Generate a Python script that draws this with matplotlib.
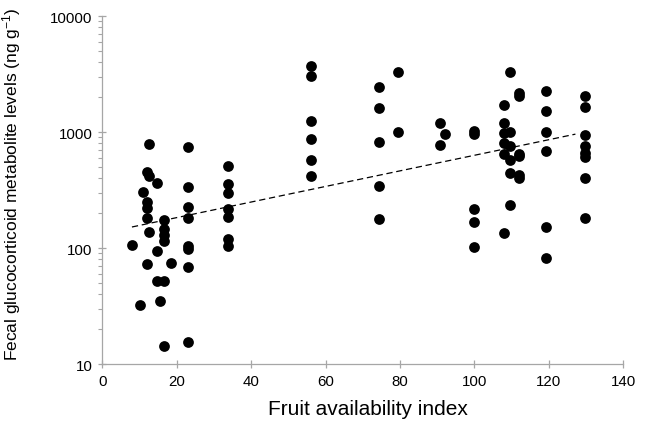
import numpy as np
import matplotlib.pyplot as plt

plt.rcParams['font.family'] = ['Liberation Sans', 'DejaVu Sans']
plt.rcParams['mathtext.fontset'] = 'custom'
plt.rcParams['mathtext.rm'] = 'Liberation Sans'
plt.rcParams['mathtext.it'] = 'Liberation Sans:italic'

# fruit availability index for each column of points, and the values in it
fruit_index = [7.95, 10.1, 10.9, 12.0, 12.6, 14.7, 15.5, 16.7, 18.4, 22.9,
               33.9, 56.1, 74.4, 79.5, 90.8, 92.2, 99.8, 108.0, 109.7, 112.1,
               119.4, 129.7]
fgm_levels = [
    [106],
    [32],
    [305],
    [455, 250, 222, 181, 73],
    [793, 418, 137],
    [366, 95, 52],
    [35],
    [175, 146, 130, 116, 52, 14.3],
    [74],
    [749, 338, 225, 181, 104, 98, 69, 15.5],
    [513, 356, 298, 217, 185, 120, 105],
    [3680, 3055, 1250, 870, 577, 420],
    [2430, 1600, 824, 344, 178],
    [3310, 993],
    [1197, 773],
    [961],
    [1026, 961, 217, 167, 103],
    [1711, 1197, 979, 800, 645, 134],
    [3270, 993, 757, 579, 441, 235],
    [2160, 2057, 653, 617, 426, 399],
    [2270, 1528, 1006, 690, 151, 81.5],
    [2030, 1633, 948, 763, 659, 605, 401, 180],
]

# dashed trend line end points
trend_x = [7.95, 127.2]
trend_y = [152, 960]

x_values = []
y_values = []
for x, ys in zip(fruit_index, fgm_levels):
    for y in ys:
        x_values.append(x)
        y_values.append(y)

fig = plt.figure(figsize=(6.5, 4.27), dpi=100)
ax = fig.add_axes([0.1575, 0.145, 0.801, 0.815])

ax.scatter(x_values, y_values, s=60, color='black', zorder=3, linewidths=0)
ax.plot(trend_x, trend_y, color='black', linestyle=(0, (5, 3)), linewidth=0.9, zorder=2)

ax.set_yscale('log')
ax.set_ylim(10, 10000)
ax.set_xlim(0, 140)
ax.set_xticks(np.arange(0, 141, 20))
ax.set_yticks([10, 100, 1000, 10000])
ax.set_yticklabels(['10', '100', '1000', '10000'])

for side in ['top', 'right']:
    ax.spines[side].set_visible(False)
for side in ['left', 'bottom']:
    ax.spines[side].set_color('#a6a6a6')
    ax.spines[side].set_linewidth(0.9)

ax.tick_params(axis='both', which='major', direction='inout', length=6, width=0.9,
               color='#a6a6a6', labelsize=10.8, labelcolor='black', pad=4)
ax.tick_params(axis='y', which='minor', direction='out', length=3, width=0.8,
               color='#a6a6a6')
ax.tick_params(axis='x', which='minor', bottom=False)

ax.set_xlabel('Fruit availability index', fontsize=15)
ax.xaxis.set_label_coords(0.51, -0.1)
ax.set_ylabel(r'Fecal glucocorticoid metabolite levels (ng g$^{-1}$)', fontsize=12.5)
ax.yaxis.set_label_coords(-0.152, 0.52)

plt.savefig('out.png', dpi=100)
